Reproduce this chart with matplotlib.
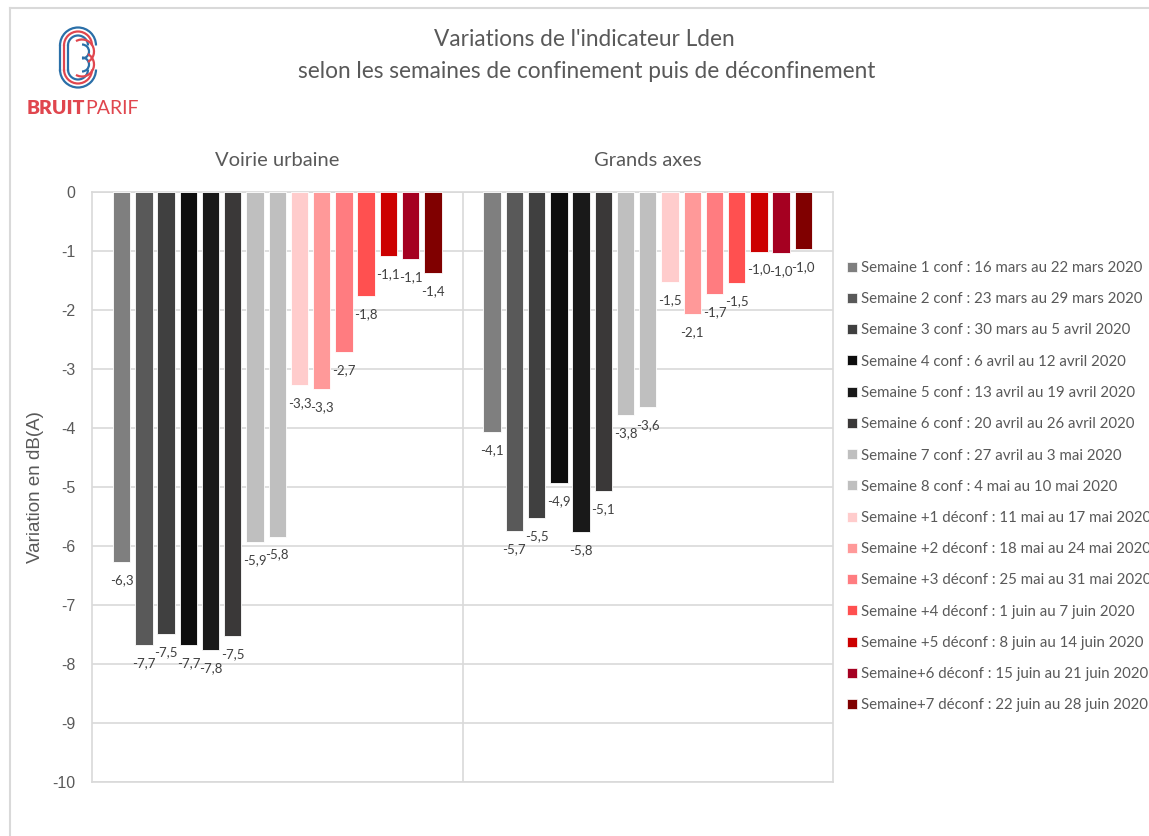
import numpy as np
import matplotlib
matplotlib.use("Agg")
import matplotlib.pyplot as plt
import matplotlib.transforms as mtransforms
from matplotlib.patches import Patch, Arc
from matplotlib.lines import Line2D

# Données
groupes = ["Voirie urbaine", "Grands axes"]
semaines = [
    "Semaine 1 conf : 16 mars au 22 mars 2020",
    "Semaine 2 conf : 23 mars au 29 mars 2020",
    "Semaine 3 conf : 30 mars au 5 avril 2020",
    "Semaine 4 conf : 6 avril au 12 avril 2020",
    "Semaine 5 conf : 13 avril au 19 avril 2020",
    "Semaine 6 conf : 20 avril au 26 avril 2020",
    "Semaine 7 conf : 27 avril au 3 mai 2020",
    "Semaine 8 conf : 4 mai au 10 mai 2020",
    "Semaine +1 déconf : 11 mai au 17 mai 2020",
    "Semaine +2 déconf : 18 mai au 24 mai 2020",
    "Semaine +3 déconf : 25 mai au 31 mai 2020",
    "Semaine +4 déconf : 1 juin au 7 juin 2020",
    "Semaine +5 déconf : 8 juin au 14 juin 2020",
    "Semaine+6 déconf : 15 juin au 21 juin 2020",
    "Semaine+7 déconf : 22 juin au 28 juin 2020",
]
voirie_urbaine = [-6.27, -7.68, -7.49, -7.68, -7.76, -7.53, -5.93, -5.84,
                  -3.27, -3.34, -2.71, -1.76, -1.08, -1.13, -1.37]
grands_axes = [-4.07, -5.74, -5.52, -4.94, -5.76, -5.07, -3.78, -3.64,
               -1.52, -2.07, -1.73, -1.54, -1.01, -1.03, -0.97]
couleurs = ["#7f7f7f", "#595959", "#404040", "#0d0d0d", "#191919", "#3a3838",
            "#bfbfbf", "#bfbfbf", "#ffcccc", "#ff9999", "#ff7c80", "#ff5050",
            "#cc0000", "#a50021", "#800000"]

W, H = 1149, 836
fig = plt.figure(figsize=(W / 100, H / 100), dpi=100)
police = "Lato"
gris_txt = "#595959"

ax = fig.add_axes([92 / W, 1 - 782 / H, (833 - 92) / W, (782 - 192) / H])
valeurs = np.array([voirie_urbaine, grands_axes])
n = len(semaines)
pas, larg = 0.06, 0.047
for j in range(n):
    xs = np.arange(len(groupes)) + 0.08 + pas * j
    ax.bar(xs, valeurs[:, j], width=larg, color=couleurs[j],
           edgecolor="white", linewidth=0.6, zorder=3)
    for x, v in zip(xs, valeurs[:, j]):
        ax.annotate(f"{v:.1f}".replace(".", ","), (x, v), xytext=(0, -13),
                    textcoords="offset points", ha="center", va="center",
                    fontsize=9.5, family=police, color="#404040", zorder=4)

ax.set_xlim(0, 2)
ax.set_ylim(-10, 0)
ax.set_yticks(np.arange(-10, 1, 1))
ax.set_yticklabels([str(t) for t in range(-10, 1)], family="Liberation Sans",
                   fontsize=11.5, color=gris_txt)
ax.tick_params(axis="y", length=0, pad=12)
ax.set_xticks([])
ax.grid(axis="y", color="#d9d9d9", linewidth=1.2, zorder=0)
ax.axvline(1, color="#d9d9d9", linewidth=1.2, zorder=0)
for s in ax.spines.values():
    s.set_color("#d9d9d9")
    s.set_linewidth(1.2)
ax.set_ylabel("Variation en dB(A)", family="Liberation Sans", fontsize=13.5,
              color=gris_txt, labelpad=6)

trans = mtransforms.blended_transform_factory(ax.transData, fig.transFigure)
for i, g in enumerate(groupes):
    ax.text(i + 0.5, 1 - 160 / H, g, transform=trans, ha="center", va="center",
            fontsize=14.5, family=police, color=gris_txt)

fig.text(584 / W, 1 - 40 / H, "Variations de l'indicateur Lden", ha="center",
         va="center", fontsize=16.3, family=police, color=gris_txt)
fig.text(587 / W, 1 - 72 / H, "selon les semaines de confinement puis de déconfinement",
         ha="center", va="center", fontsize=16.3, family=police, color=gris_txt)

poignees = [Patch(facecolor=c, edgecolor="white", linewidth=0.5) for c in couleurs]
fig.legend(poignees, semaines, loc="upper left", bbox_to_anchor=(847 / W, 1 - 261 / H),
           frameon=False, labelcolor=gris_txt,
           prop={"family": police, "size": 10.8},
           handlelength=0.65, handleheight=0.65, handletextpad=0.3,
           labelspacing=1.15, borderaxespad=0, borderpad=0)

# cadre gris
fig.add_artist(Line2D([10 / W, 10 / W], [0, 1 - 8 / H], color="#d9d9d9",
                      linewidth=1.5, transform=fig.transFigure))
fig.add_artist(Line2D([10 / W, 1], [1 - 8 / H, 1 - 8 / H], color="#d9d9d9",
                      linewidth=1.5, transform=fig.transFigure))

# logo BRUITPARIF
lg = fig.add_axes([50 / W, 1 - 95 / H, 60 / W, 75 / H])
lg.set_xlim(-30, 30)
lg.set_ylim(-37.5, 37.5)
lg.set_aspect("equal")
lg.axis("off")
bleu, rouge = "#2a6fa8", "#e0464e"
for r, c in [(10, bleu), (14, rouge), (18, bleu)]:
    lg.add_patch(Arc((-2, 12), 2 * r, 2 * r, theta1=0, theta2=180, color=c, lw=1.6))
    lg.add_patch(Arc((-2, -12), 2 * r, 2 * r, theta1=180, theta2=360, color=c, lw=1.6))
for dx, c in [(-10, bleu), (-14, rouge), (-18, bleu)]:
    lg.plot([-2 + dx, -2 + dx], [-12, 12], color=c, lw=1.6)
lg.add_patch(Arc((2, 6), 14, 14, theta1=-90, theta2=90, color=bleu, lw=1.6))
lg.add_patch(Arc((2, -7), 14, 14, theta1=-90, theta2=90, color=bleu, lw=1.6))
lg.add_patch(Arc((2, 6), 24, 24, theta1=-60, theta2=120, color=rouge, lw=1.6))
lg.add_patch(Arc((2, -7), 24, 24, theta1=-120, theta2=60, color=rouge, lw=1.6))

t1 = fig.text(27 / W, 1 - 108 / H, "BRUIT", ha="left", va="center", fontsize=14,
              family=police, weight="heavy", color=rouge)
fig.canvas.draw()
bb = t1.get_window_extent()
fig.text(bb.x1 / W, 1 - 108 / H, "PARIF", ha="left", va="center", fontsize=14,
         family=police, color=rouge)

fig.savefig("out.png", dpi=100)
